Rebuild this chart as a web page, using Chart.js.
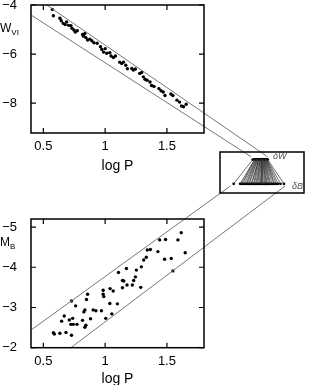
<!DOCTYPE html>
<html>
<head>
<meta charset="utf-8">
<script src="https://cdn.jsdelivr.net/npm/chart.js@4"></script>
<style>
  html, body { margin: 0; padding: 0; background: #fff; overflow: hidden; }
  body { width: 309px; height: 385px; position: relative; font-family: "Liberation Sans", Arial, sans-serif; }
  .wrap { position: absolute; }
  .lab { position: absolute; font-size: 12px; line-height: 12px; color: #000; white-space: nowrap; }
  .lab sub { font-size: 8px; vertical-align: -3px; }
  .dl { position: absolute; font-size: 9px; line-height: 9px; font-style: italic; color: #555; }
</style>
</head>
<body>
<div class="wrap" style="left:0;top:0;width:309px;height:200px"><canvas id="topChart"></canvas></div>
<div class="wrap" style="left:0;top:140px;width:309px;height:255px"><canvas id="botChart"></canvas></div>
<div class="wrap" style="left:216px;top:148px;width:92px;height:49px"><canvas id="fanChart"></canvas></div>
<span class="lab" style="left:0;top:22px">W<sub>VI</sub></span>
<span class="lab" style="left:0;top:236px">M<sub>B</sub></span>
<span class="dl" style="left:273px;top:152px">&delta;W</span>
<span class="dl" style="left:292px;top:182px">&delta;B</span>
<script>
// upper panel: Wesenheit W_VI vs log P
const topLogP = [0.573, 0.581, 0.634, 0.645, 0.661, 0.677, 0.688, 0.704, 0.723, 0.731, 0.747, 0.758, 0.774,
  0.817, 0.825, 0.836, 0.844, 0.858, 0.876, 0.892, 0.909, 0.935, 0.962, 0.973, 0.987, 1.000, 1.013, 1.038,
  1.048, 1.067, 1.083, 1.118, 1.134, 1.148, 1.167, 1.180, 1.215, 1.228, 1.245, 1.280, 1.296, 1.309, 1.323,
  1.339, 1.363, 1.376, 1.395, 1.435, 1.452, 1.470, 1.484, 1.532, 1.548, 1.581, 1.602, 1.618, 1.634, 1.656];
const topW = [-4.18, -4.44, -4.54, -4.64, -4.75, -4.80, -4.69, -4.83, -4.84, -4.95, -5.02, -5.10, -5.05,
  -5.20, -5.27, -5.16, -5.33, -5.43, -5.39, -5.46, -5.54, -5.56, -5.70, -5.81, -5.92, -5.78, -5.97, -5.95,
  -6.08, -6.14, -6.08, -6.33, -6.39, -6.33, -6.46, -6.60, -6.59, -6.65, -6.61, -6.79, -6.75, -6.93, -7.03,
  -7.07, -7.14, -7.28, -7.32, -7.41, -7.50, -7.55, -7.69, -7.63, -7.69, -7.88, -7.96, -8.12, -8.15, -8.05];
// band edges, running on to the inset
const topUpperP = [0.527, 2.315];
const topUpperW = [-4.00, -10.19];
const topLowerP = [0.401, 2.181];
const topLowerW = [-4.41, -10.19];

// lower panel: M_B vs log P
const botLogP = [0.581, 0.589, 0.634, 0.683, 0.728, 0.648, 0.669, 0.710, 0.737, 0.723, 0.742, 0.728, 0.761,
  0.772, 0.817, 0.828, 0.836, 0.836, 0.844, 0.849, 0.858, 0.882, 0.903, 0.925, 0.970, 0.984, 0.984, 0.989,
  1.005, 1.038, 1.040, 1.054, 1.065, 1.099, 1.108, 1.140, 1.140, 1.151, 1.172, 1.177, 1.220, 1.231, 1.245,
  1.253, 1.288, 1.293, 1.312, 1.333, 1.341, 1.366, 1.427, 1.441, 1.481, 1.489, 1.535, 1.548, 1.589, 1.616, 1.648];
const botMB = [-2.37, -2.34, -2.36, -2.38, -2.31, -2.66, -2.79, -2.69, -2.73, -2.58, -2.58, -3.16, -3.04,
  -2.58, -2.68, -2.89, -2.94, -2.51, -2.56, -3.20, -3.33, -2.72, -2.94, -2.92, -2.92, -3.43, -3.33, -3.27,
  -2.73, -3.10, -3.47, -2.84, -3.41, -3.09, -3.87, -3.49, -3.67, -3.66, -3.97, -3.56, -3.56, -3.67, -3.76,
  -3.93, -3.50, -4.01, -4.18, -4.25, -4.43, -4.44, -4.39, -4.68, -4.20, -4.69, -4.22, -3.91, -4.68, -4.86, -4.36];
const botUpperP = [0.401, 2.014];
const botUpperMB = [-2.44, -6.022];
const botLowerP = [0.723, 2.457];
const botLowerMB = [-2.00, -6.022];

// inset: residual in W (top row) joined to residual in B (bottom row)
const fanW = [-0.110, -0.09, -0.085, -0.08, -0.07, -0.068, -0.06, -0.055, -0.05, -0.042, -0.04, -0.035,
  -0.03, -0.022, -0.02, -0.015, -0.01, -0.004, 0.0, 0.005, 0.008, 0.012, 0.018, 0.02, 0.025, 0.03, 0.033,
  0.038, 0.042, 0.045, 0.05, 0.055, 0.058, 0.062, 0.068];
const fanB = [-0.337, -0.26, -0.245, -0.23, -0.21, -0.19, -0.18, -0.16, -0.15, -0.10, -0.12, -0.13,
  -0.09, -0.075, -0.06, -0.05, -0.035, -0.02, -0.01, 0.0, 0.015, 0.03, 0.04, 0.05, 0.06, 0.075, 0.09,
  0.1, 0.12, 0.14, 0.15, 0.17, 0.19, 0.22, 0.261];

const xTicks = [0.5, 1, 1.5];
const xTickLabels = ['0.5', '1', '1.5'];
const topYTicks = [-8, -6, -4];
const topYLabels = ['\u22128', '\u22126', '\u22124'];
const botYTicks = [-5, -4, -3, -2];
const botYLabels = ['\u22125', '\u22124', '\u22123', '\u22122'];

Chart.defaults.font.family = '"Liberation Sans", Arial, sans-serif';
Chart.defaults.color = '#000';

const pts = (xs, ys) => xs.map((x, i) => ({ x: x, y: ys[i] }));
const labelFor = (ticks, labels) => v => labels[ticks.indexOf(v)];

// box round the plot area plus short inward ticks on all four sides
const framePlugin = {
  id: 'frame',
  afterDraw(chart, args, opts) {
    const { ctx, chartArea: a, scales } = chart;
    ctx.save();
    ctx.strokeStyle = '#000';
    ctx.lineWidth = opts.width || 1.5;
    ctx.strokeRect(a.left, a.top, a.right - a.left, a.bottom - a.top);
    const t = opts.tickLen || 0;
    if (t) {
      ctx.lineWidth = 1.2;
      ctx.beginPath();
      scales.x.ticks.forEach(tk => {
        const px = scales.x.getPixelForValue(tk.value);
        ctx.moveTo(px, a.bottom); ctx.lineTo(px, a.bottom - t);
        ctx.moveTo(px, a.top); ctx.lineTo(px, a.top + t);
      });
      scales.y.ticks.forEach(tk => {
        const py = scales.y.getPixelForValue(tk.value);
        ctx.moveTo(a.left, py); ctx.lineTo(a.left + t, py);
        ctx.moveTo(a.right, py); ctx.lineTo(a.right - t, py);
      });
      ctx.stroke();
    }
    ctx.restore();
  }
};

function bandLine(xs, ys) {
  return {
    data: pts(xs, ys), showLine: true, pointRadius: 0, borderColor: '#777',
    borderWidth: 1, clip: false
  };
}

function panel(id, opt) {
  new Chart(document.getElementById(id), {
    type: 'scatter',
    data: {
      datasets: [
        bandLine(opt.upper[0], opt.upper[1]),
        bandLine(opt.lower[0], opt.lower[1]),
        { data: pts(opt.xs, opt.ys), pointRadius: 1.7, pointBackgroundColor: '#000', pointBorderWidth: 0 }
      ]
    },
    options: {
      responsive: true,
      maintainAspectRatio: false,
      animation: false,
      layout: { padding: { left: 0, right: 105, top: opt.padTop, bottom: 0 } },
      plugins: { legend: { display: false }, tooltip: { enabled: false }, frame: { tickLen: 5 } },
      scales: {
        x: {
          type: 'linear', position: 'bottom', min: 0.4, max: 1.8,
          grid: { display: false }, border: { display: false },
          afterBuildTicks: s => { s.ticks = xTicks.map(v => ({ value: v })); },
          afterFit: s => { s.height = opt.xHeight; s.paddingLeft = 0; s.paddingRight = 0; },
          ticks: { font: { size: 13 }, padding: -2, autoSkip: false, maxRotation: 0,
            callback: labelFor(xTicks, xTickLabels) },
          title: { display: true, text: 'log P', font: { size: 14 }, padding: { top: 0, bottom: opt.titlePad } }
        },
        y: {
          type: 'linear', min: opt.yMin, max: opt.yMax, reverse: opt.reverse,
          grid: { display: false }, border: { display: false },
          afterBuildTicks: s => { s.ticks = opt.yTicks.map(v => ({ value: v })); },
          afterFit: s => { s.width = 31; s.paddingTop = 0; s.paddingBottom = 0; },
          ticks: { font: { size: 13 }, padding: 6, autoSkip: false, callback: labelFor(opt.yTicks, opt.yLabels) }
        }
      }
    },
    plugins: [framePlugin]
  });
}

panel('topChart', {
  xs: topLogP, ys: topW,
  upper: [topUpperP, topUpperW], lower: [topLowerP, topLowerW],
  yMin: -9.22, yMax: -4, reverse: false, yTicks: topYTicks, yLabels: topYLabels,
  padTop: 5, xHeight: 67, titlePad: 25
});

panel('botChart', {
  xs: botLogP, ys: botMB,
  upper: [botUpperP, botUpperMB], lower: [botLowerP, botLowerMB],
  yMin: -5.2, yMax: -2, reverse: true, yTicks: botYTicks, yLabels: botYLabels,
  padTop: 79, xHeight: 47.3, titlePad: 7
});

// fan: one segment per star, broken by null points
const fanSegments = [];
fanW.forEach((w, i) => {
  fanSegments.push({ x: w, y: 1 }, { x: fanB[i], y: 0 }, { x: fanB[i], y: null });
});

new Chart(document.getElementById('fanChart'), {
  type: 'scatter',
  data: {
    datasets: [
      { data: fanSegments, showLine: true, spanGaps: false, pointRadius: 0, borderColor: '#333', borderWidth: 0.7 },
      { data: fanW.map(w => ({ x: w, y: 1 })), pointRadius: 1.4, pointBackgroundColor: '#000', pointBorderWidth: 0 },
      { data: fanB.map(b => ({ x: b, y: 0 })), pointRadius: 1.4, pointBackgroundColor: '#000', pointBorderWidth: 0 }
    ]
  },
  options: {
    responsive: true,
    maintainAspectRatio: false,
    animation: false,
    layout: { padding: 0 },
    plugins: { legend: { display: false }, tooltip: { enabled: false }, frame: { width: 1.5 } },
    scales: {
      x: { type: 'linear', display: false, min: -0.5, max: 0.5 },
      y: { type: 'linear', display: false, min: -0.379, max: 1.31 }
    }
  },
  plugins: [framePlugin]
});
</script>
</body>
</html>
